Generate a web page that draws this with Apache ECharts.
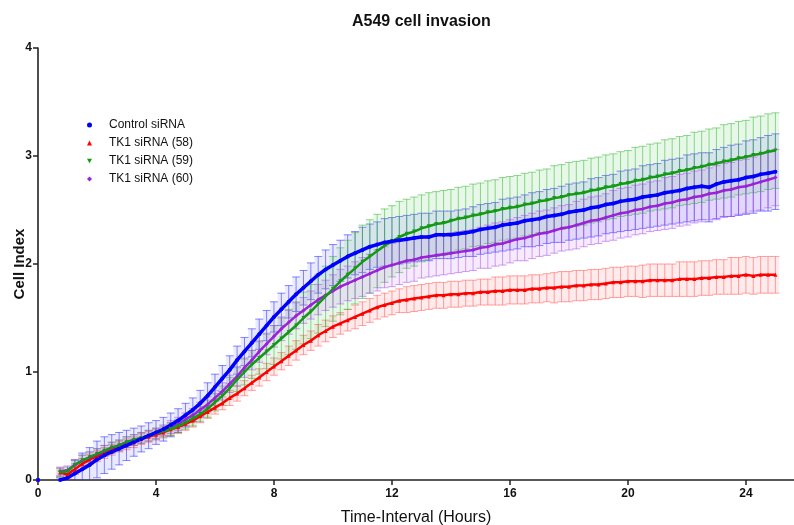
<!DOCTYPE html>
<html>
<head>
<meta charset="utf-8">
<script src="https://cdn.jsdelivr.net/npm/echarts@6/dist/echarts.min.js"></script>
<style>html,body{margin:0;padding:0;background:#fff}#chart{width:794px;height:525px}</style>
</head>
<body>
<div id="chart"></div>
<script>
// ---- data ----
const seriesNames = ['Control siRNA', 'TK1 siRNA (58)', 'TK1 siRNA (59)', 'TK1 siRNA (60)'];
const T_START = 0.75, T_STEP = 0.25;           // sampling grid of the readings (hours)
const xTicks = [0, 4, 8, 12, 16, 20, 24];
const yTicks = [0, 1, 2, 3, 4];
const originValues = [0, 0, 0, 0];              // readings at t = 0

const controlMean = [0.00,
 0.02,0.06,0.10,0.14, 0.19,0.23,0.26,0.29, 0.32,0.35,0.38,0.41, 0.44,0.47,0.51,0.55,
 0.60,0.65,0.71,0.78, 0.86,0.94,1.02,1.11, 1.19,1.27,1.35,1.43, 1.51,1.58,1.65,1.72,
 1.78,1.84,1.90,1.95, 1.99,2.03,2.07,2.10, 2.13,2.16,2.18,2.20, 2.21,2.22,2.23,2.24,
 2.25,2.25,2.27,2.27, 2.27,2.28,2.29,2.30, 2.32,2.33,2.34,2.36, 2.37,2.38,2.40,2.41,
 2.42,2.44,2.45,2.46, 2.48,2.49,2.50,2.52, 2.53,2.55,2.56,2.58, 2.59,2.60,2.62,2.63,
 2.64,2.66,2.67,2.68, 2.70,2.71,2.72,2.71, 2.74,2.76,2.77,2.78, 2.80,2.81,2.83,2.84, 2.855];
const controlSD = [0.02,
 0.06,0.12,0.15,0.16, 0.17,0.17,0.16,0.15, 0.14,0.13,0.12,0.12, 0.11,0.11,0.11,0.11,
 0.11,0.11,0.12,0.12, 0.12,0.12,0.13,0.13, 0.13,0.13,0.14,0.14, 0.14,0.15,0.15,0.16,
 0.16,0.17,0.17,0.18, 0.19,0.19,0.20,0.20, 0.21,0.21,0.21,0.22, 0.22,0.22,0.22,0.22,
 0.22,0.22,0.22,0.22, 0.22,0.22,0.22,0.23, 0.23,0.23,0.23,0.24, 0.24,0.24,0.24,0.25,
 0.25,0.25,0.25,0.26, 0.26,0.26,0.26,0.27, 0.27,0.27,0.27,0.28, 0.28,0.28,0.29,0.29,
 0.29,0.30,0.30,0.30, 0.31,0.31,0.31,0.32, 0.32,0.32,0.33,0.33, 0.34,0.34,0.34,0.35, 0.35];

const tk58Mean = [0.07,
 0.05,0.10,0.15,0.19, 0.22,0.25,0.28,0.31, 0.33,0.35,0.38,0.40, 0.42,0.44,0.47,0.49,
 0.52,0.55,0.59,0.63, 0.67,0.71,0.76,0.80, 0.85,0.90,0.95,1.00, 1.05,1.10,1.15,1.20,
 1.25,1.29,1.34,1.38, 1.42,1.45,1.48,1.51, 1.54,1.57,1.60,1.62, 1.64,1.66,1.67,1.68,
 1.69,1.70,1.71,1.71, 1.72,1.72,1.73,1.73, 1.74,1.74,1.75,1.75, 1.76,1.76,1.76,1.77,
 1.77,1.78,1.78,1.79, 1.79,1.80,1.80,1.81, 1.81,1.82,1.83,1.83, 1.84,1.84,1.84,1.85,
 1.85,1.85,1.85,1.86, 1.86,1.86,1.87,1.87, 1.88,1.88,1.89,1.89, 1.90,1.89,1.90,1.90, 1.90];
const tk58SD = [0.04,
 0.04,0.05,0.05,0.05, 0.05,0.05,0.05,0.05, 0.05,0.05,0.05,0.05, 0.05,0.05,0.06,0.06,
 0.06,0.06,0.06,0.06, 0.06,0.06,0.07,0.07, 0.07,0.07,0.08,0.08, 0.08,0.08,0.09,0.09,
 0.09,0.09,0.10,0.10, 0.10,0.10,0.10,0.11, 0.11,0.11,0.11,0.11, 0.11,0.11,0.12,0.12,
 0.12,0.12,0.12,0.12, 0.12,0.12,0.12,0.12, 0.12,0.12,0.13,0.13, 0.13,0.13,0.13,0.13,
 0.13,0.13,0.14,0.14, 0.14,0.14,0.14,0.14, 0.14,0.14,0.14,0.14, 0.14,0.14,0.15,0.15,
 0.15,0.15,0.15,0.16, 0.16,0.16,0.16,0.16, 0.16,0.16,0.17,0.17, 0.17,0.17,0.17,0.17, 0.17];

const tk59Mean = [0.07,
 0.08,0.14,0.18,0.21, 0.24,0.27,0.30,0.32, 0.35,0.37,0.39,0.41, 0.43,0.45,0.47,0.50,
 0.53,0.57,0.61,0.66, 0.72,0.78,0.85,0.93, 1.00,1.07,1.13,1.19, 1.25,1.31,1.37,1.43,
 1.50,1.56,1.63,1.70, 1.77,1.84,1.90,1.96, 2.02,2.07,2.12,2.17, 2.21,2.25,2.28,2.30,
 2.33,2.35,2.37,2.38, 2.40,2.42,2.43,2.45, 2.46,2.48,2.49,2.51, 2.52,2.53,2.55,2.56,
 2.58,2.59,2.61,2.62, 2.64,2.65,2.66,2.68, 2.69,2.71,2.72,2.74, 2.75,2.77,2.78,2.80,
 2.81,2.83,2.84,2.86, 2.87,2.89,2.90,2.92, 2.93,2.95,2.96,2.98, 2.99,3.01,3.02,3.04, 3.05];
const tk59SD = [0.04,
 0.04,0.05,0.05,0.05, 0.05,0.05,0.05,0.05, 0.05,0.05,0.05,0.05, 0.05,0.05,0.06,0.06,
 0.06,0.07,0.07,0.08, 0.08,0.09,0.10,0.11, 0.12,0.13,0.15,0.16, 0.18,0.19,0.21,0.22,
 0.24,0.25,0.27,0.28, 0.30,0.31,0.32,0.33, 0.34,0.34,0.34,0.34, 0.33,0.33,0.32,0.32,
 0.31,0.31,0.30,0.30, 0.29,0.29,0.29,0.29, 0.29,0.29,0.29,0.29, 0.29,0.29,0.29,0.29,
 0.29,0.29,0.30,0.30, 0.30,0.30,0.30,0.30, 0.30,0.30,0.30,0.30, 0.30,0.31,0.31,0.31,
 0.31,0.32,0.32,0.32, 0.32,0.33,0.33,0.33, 0.33,0.34,0.34,0.34, 0.34,0.35,0.35,0.35, 0.35];

const tk60Mean = [0.08,
 0.09,0.14,0.18,0.21, 0.24,0.27,0.30,0.32, 0.35,0.37,0.39,0.41, 0.43,0.46,0.49,0.52,
 0.56,0.60,0.65,0.70, 0.76,0.82,0.89,0.96, 1.04,1.11,1.19,1.26, 1.33,1.40,1.46,1.52,
 1.57,1.62,1.67,1.71, 1.75,1.79,1.82,1.85, 1.88,1.91,1.94,1.97, 1.99,2.01,2.03,2.04,
 2.06,2.07,2.08,2.09, 2.10,2.11,2.12,2.13, 2.15,2.16,2.18,2.19, 2.21,2.23,2.24,2.26,
 2.28,2.29,2.31,2.33, 2.34,2.36,2.38,2.40, 2.41,2.43,2.45,2.47, 2.48,2.50,2.51,2.53,
 2.54,2.56,2.57,2.59, 2.60,2.62,2.63,2.65, 2.66,2.68,2.69,2.71, 2.72,2.74,2.76,2.78, 2.80];
const tk60SD = [0.04,
 0.04,0.05,0.05,0.05, 0.05,0.05,0.05,0.05, 0.05,0.05,0.05,0.05, 0.05,0.05,0.06,0.06,
 0.06,0.06,0.07,0.07, 0.07,0.08,0.08,0.09, 0.09,0.09,0.10,0.10, 0.10,0.11,0.11,0.12,
 0.12,0.13,0.14,0.14, 0.15,0.16,0.16,0.17, 0.18,0.18,0.19,0.19, 0.20,0.20,0.20,0.20,
 0.19,0.19,0.19,0.19, 0.19,0.19,0.19,0.19, 0.19,0.20,0.20,0.20, 0.20,0.20,0.21,0.21,
 0.21,0.21,0.21,0.21, 0.21,0.22,0.22,0.22, 0.22,0.22,0.23,0.23, 0.23,0.23,0.23,0.23,
 0.23,0.24,0.24,0.24, 0.24,0.24,0.24,0.24, 0.25,0.25,0.25,0.25, 0.25,0.25,0.26,0.26, 0.26];

// ---- build ----
const FONT = '"Liberation Sans", Arial, sans-serif';
const times = controlMean.map((_, i) => +(T_START + i * T_STEP).toFixed(2));
const means = [controlMean, tk58Mean, tk59Mean, tk60Mean];
const sds = [controlSD, tk58SD, tk59SD, tk60SD];
const lineColors = ['#0000ff', '#ff0000', '#139a13', '#9a22d8'];
const barColors = ['rgba(40,40,255,0.55)', 'rgba(255,60,60,0.45)', 'rgba(40,180,40,0.5)', 'rgba(170,70,235,0.5)'];
const bandColors = ['rgba(90,90,255,0.13)', 'rgba(255,90,90,0.12)', 'rgba(80,200,80,0.13)', 'rgba(180,100,240,0.13)'];
const symbols = ['circle', 'triangle', 'path://M0,0 L10,0 L5,9 Z', 'diamond'];
const lineWidths = [3.5, 2.5, 2.5, 2.5];

function errRender(k) {
  return function (params, api) {
    const x = api.value(0), lo = api.value(1), hi = api.value(2);
    const pHi = api.coord([x, hi]);
    const pLo = api.coord([x, lo]);
    const step = Math.abs(api.size([T_STEP, 0])[0]);
    const w = step / 2 + 0.3;
    const st = { stroke: barColors[k], lineWidth: 1 };
    return {
      type: 'group',
      children: [
        { type: 'rect', shape: { x: pHi[0] - step / 2, y: pHi[1], width: step, height: pLo[1] - pHi[1] },
          style: { fill: bandColors[k] } },
        { type: 'line', shape: { x1: pHi[0], y1: pHi[1], x2: pLo[0], y2: pLo[1] }, style: st },
        { type: 'line', shape: { x1: pHi[0] - w, y1: pHi[1], x2: pHi[0] + w, y2: pHi[1] }, style: st },
        { type: 'line', shape: { x1: pLo[0] - w, y1: pLo[1], x2: pLo[0] + w, y2: pLo[1] }, style: st }
      ]
    };
  };
}

const series = [];
means.forEach((m, k) => {
  series.push({
    name: seriesNames[k] + ' SD',
    type: 'custom',
    renderItem: errRender(k),
    clip: true,
    z: 1,
    silent: true,
    encode: { x: 0, y: [1, 2] },
    data: m.map((v, i) => [times[i], v - sds[k][i], v + sds[k][i]])
  });
});
const drawOrder = [1, 3, 2, 0];
drawOrder.forEach(k => {
  const m = means[k];
  const data = [[0, originValues[k]], [T_START / 2, '-']].concat(m.map((v, i) => [times[i], v]));
  series.push({
    name: seriesNames[k],
    type: 'line',
    z: 3,
    data: data,
    connectNulls: false,
    showSymbol: true,
    symbol: symbols[k],
    symbolSize: 4,
    itemStyle: { color: lineColors[k] },
    lineStyle: { color: lineColors[k], width: lineWidths[k] },
    clip: true
  });
});

const chart = echarts.init(document.getElementById('chart'), null, { renderer: 'canvas' });
chart.setOption({
  animation: false,
  backgroundColor: '#fff',
  title: {
    text: 'A549 cell invasion',
    left: 347, top: 9,
    textStyle: { fontFamily: FONT, fontWeight: 'bold', fontSize: 16, color: '#111' }
  },
  legend: {
    orient: 'vertical',
    left: 82, top: 113,
    itemWidth: 5, itemHeight: 5, itemGap: 4,
    textStyle: { fontFamily: FONT, fontSize: 12, color: '#111', padding: [0, 0, 0, 12], lineHeight: 14 },
    data: seriesNames.map((n, k) => ({ name: n, icon: symbols[k] }))
  },
  grid: { left: 38, right: 0, top: 48, bottom: 45, outerBoundsMode: 'none', containLabel: false },
  xAxis: {
    type: 'value', min: 0, max: 25.63, interval: 4,
    name: 'Time-Interval (Hours)', nameLocation: 'middle', nameGap: 30, nameMoveOverlap: false,
    nameTextStyle: { fontFamily: FONT, fontSize: 16, color: '#111' },
    axisLine: { show: true, onZero: false, lineStyle: { color: '#222', width: 1.6 } },
    axisTick: { show: true, length: 5, lineStyle: { color: '#222', width: 1.5 }, customValues: xTicks },
    axisLabel: { fontFamily: FONT, fontWeight: 'bold', fontSize: 12, color: '#111', margin: 8, customValues: xTicks },
    splitLine: { show: false }
  },
  yAxis: {
    type: 'value', min: 0, max: 4, interval: 1,
    name: 'Cell Index', nameLocation: 'middle', nameGap: 11, nameMoveOverlap: false,
    nameTextStyle: { fontFamily: FONT, fontSize: 15, fontWeight: 'bold', color: '#111' },
    axisLine: { show: true, lineStyle: { color: '#222', width: 1.6 } },
    axisTick: { show: true, length: 5, lineStyle: { color: '#222', width: 1.5 }, customValues: yTicks },
    axisLabel: { fontFamily: FONT, fontWeight: 'bold', fontSize: 12, color: '#111', margin: 6, customValues: yTicks },
    splitLine: { show: false }
  },
  series: series
});
</script>
</body>
</html>
